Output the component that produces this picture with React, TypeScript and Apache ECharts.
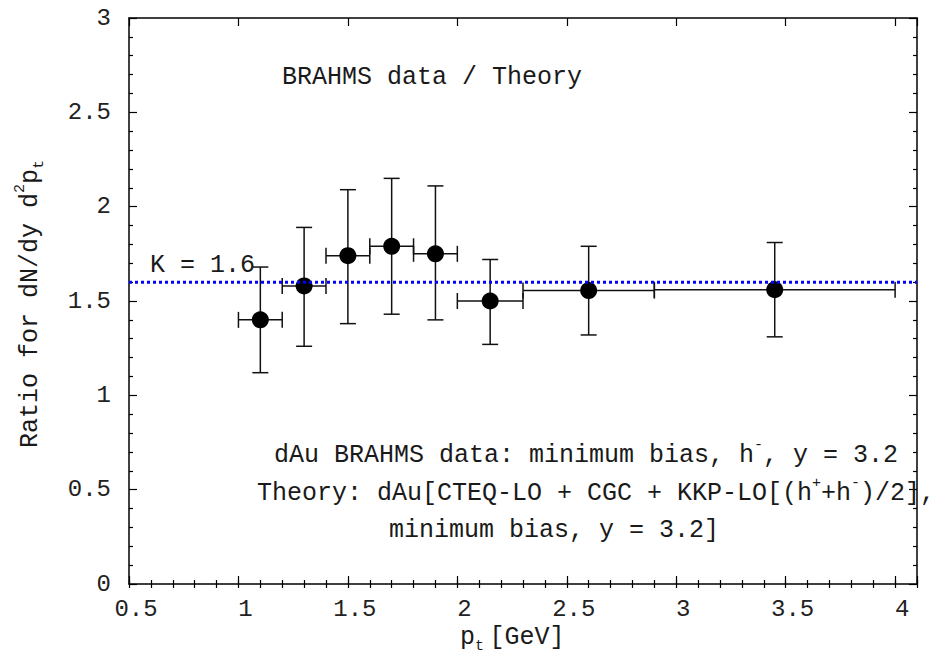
import React, { useEffect, useRef } from "react";
import * as echarts from "echarts";

// ---- data ----
const ptCenter = [1.1, 1.3, 1.5, 1.7, 1.9, 2.15, 2.6, 3.45];
const ptLow = [1.0, 1.2, 1.4, 1.6, 1.8, 2.0, 2.3, 2.9];
const ptHigh = [1.2, 1.4, 1.6, 1.8, 2.0, 2.3, 2.9, 4.0];
const ratio = [1.4, 1.58, 1.74, 1.79, 1.75, 1.5, 1.555, 1.56];
const ratioLow = [1.12, 1.26, 1.38, 1.43, 1.4, 1.27, 1.32, 1.31];
const ratioHigh = [1.68, 1.89, 2.09, 2.15, 2.11, 1.72, 1.79, 1.81];
const kFactor = 1.6;
const xMin = 0.5;
const xMax = 4.1;
const yMin = 0;
const yMax = 3;

const FONT = '"Liberation Mono", "Courier New", monospace';
const TXT = "#1a1a1a";

const richStyles = {
  sup: { fontSize: 15, fontFamily: FONT, fill: TXT, verticalAlign: "top", lineHeight: 15 },
  sub: { fontSize: 15, fontFamily: FONT, fill: TXT, verticalAlign: "bottom", lineHeight: 15 },
  sp: { fontSize: 9, fontFamily: FONT, fill: TXT },
};

function textEl(text: string, x: number, y: number, extra: any = {}) {
  return {
    type: "text",
    x,
    y,
    z: 100,
    ...extra,
    style: {
      text,
      fontSize: 25,
      fontFamily: FONT,
      fill: TXT,
      lineHeight: 34,
      textAlign: extra.align || "left",
      textVerticalAlign: "middle",
      rich: richStyles,
    },
  };
}

export default function App() {
  const ref = useRef<HTMLDivElement>(null);

  useEffect(() => {
    if (!ref.current) return;
    const chart = echarts.init(ref.current, null, { renderer: "svg" });

    const errData = ptCenter.map((x, i) => [x, ratio[i], ptLow[i], ptHigh[i], ratioLow[i], ratioHigh[i]]);
    const pointData = ptCenter.map((x, i) => [x, ratio[i]]);

    const majorX = (pos: string, labels: boolean) => ({
      type: "value",
      position: pos,
      min: xMin,
      max: xMax,
      interval: 0.5,
      axisLine: { show: true, onZero: false, lineStyle: { color: "#000", width: 1.5 } },
      axisTick: { show: true, inside: true, length: 8, lineStyle: { color: "#000", width: 1.2 } },
      axisLabel: labels
        ? {
            show: true,
            margin: 13,
            fontSize: 24,
            fontFamily: FONT,
            color: "#222",
            padding: [0, 0, 0, 14],
            formatter: (v: number) =>
              Math.abs(v * 2 - Math.round(v * 2)) < 1e-6 ? String(v) : "",
          }
        : { show: false },
      splitLine: { show: false },
    });
    const minorX = (pos: string) => ({
      type: "value",
      position: pos,
      min: xMin,
      max: xMax,
      interval: 0.1,
      axisLine: { show: false },
      axisTick: { show: true, inside: true, length: 4, lineStyle: { color: "#000", width: 1.2 } },
      axisLabel: { show: false },
      splitLine: { show: false },
    });
    const yAx = (pos: string, labels: boolean) => ({
      type: "value",
      position: pos,
      min: yMin,
      max: yMax,
      interval: 0.5,
      axisLine: { show: true, onZero: false, lineStyle: { color: "#000", width: 1.5 } },
      axisTick: { show: true, inside: true, length: 8, lineStyle: { color: "#000", width: 1.2 } },
      minorTick: { show: true, splitNumber: 5, length: 4, lineStyle: { color: "#000", width: 1.2 } },
      axisLabel: labels
        ? { show: true, margin: 18, fontSize: 24, fontFamily: FONT, color: "#222", padding: [4, 0, 0, 0] }
        : { show: false },
      splitLine: { show: false },
    });

    chart.setOption({
      animation: false,
      backgroundColor: "#fff",
      grid: { left: 129, right: 35, top: 18, bottom: 76, containLabel: false, outerBoundsMode: "none" },
      xAxis: [majorX("bottom", true), minorX("bottom"), majorX("top", false), minorX("top")],
      yAxis: [yAx("left", true), yAx("right", false)],
      series: [
        {
          type: "custom",
          coordinateSystem: "cartesian2d",
          xAxisIndex: 0,
          yAxisIndex: 0,
          z: 2,
          encode: { x: 0, y: 1 },
          data: errData,
          renderItem: (params: any, api: any) => {
            const x = api.value(0);
            const y = api.value(1);
            const pl = api.coord([api.value(2), y]);
            const ph = api.coord([api.value(3), y]);
            const pb = api.coord([x, api.value(4)]);
            const pt = api.coord([x, api.value(5)]);
            const cap = 8;
            const style = { stroke: "#111", lineWidth: 1.5 };
            const ln = (x1: number, y1: number, x2: number, y2: number) => ({
              type: "line",
              shape: { x1, y1, x2, y2 },
              style,
            });
            return {
              type: "group",
              children: [
                ln(pl[0], pl[1], ph[0], ph[1]),
                ln(pl[0], pl[1] - cap, pl[0], pl[1] + cap),
                ln(ph[0], ph[1] - cap, ph[0], ph[1] + cap),
                ln(pb[0], pb[1], pt[0], pt[1]),
                ln(pb[0] - cap, pb[1], pb[0] + cap, pb[1]),
                ln(pt[0] - cap, pt[1], pt[0] + cap, pt[1]),
              ],
            };
          },
        },
        {
          type: "scatter",
          xAxisIndex: 0,
          yAxisIndex: 0,
          z: 3,
          symbol: "circle",
          symbolSize: 17,
          itemStyle: { color: "#000", opacity: 1 },
          data: pointData,
        },
        {
          type: "line",
          xAxisIndex: 0,
          yAxisIndex: 0,
          z: 4,
          symbol: "none",
          lineStyle: { color: "#0000ff", width: 3, type: [3, 3], cap: "butt" },
          data: [
            [xMin, kFactor],
            [xMax, kFactor],
          ],
        },
      ],
      graphic: [
        textEl("BRAHMS data / Theory", 282, 77),
        textEl("K = 1.6", 150, 265),
        textEl("dAu BRAHMS data: minimum bias, h{sup|-}, y = 3.2", 274, 455),
        textEl("Theory: dAu[CTEQ-LO + CGC + KKP-LO[(h{sup|+}+h{sup|-})/2],", 257, 493),
        textEl("minimum bias, y = 3.2]", 389, 530),
        textEl("p{sub|t}{sp| }[GeV]", 460, 637),
        textEl("Ratio for dN/dy d{sup|2}p{sub|t}", 30, 304, { align: "center", rotation: Math.PI / 2 }),
      ],
    });

    return () => chart.dispose();
  }, []);

  return (
    <div
      ref={ref}
      style={{ position: "fixed", left: 0, top: 0, width: 952, height: 660, background: "#fff" }}
    />
  );
}
